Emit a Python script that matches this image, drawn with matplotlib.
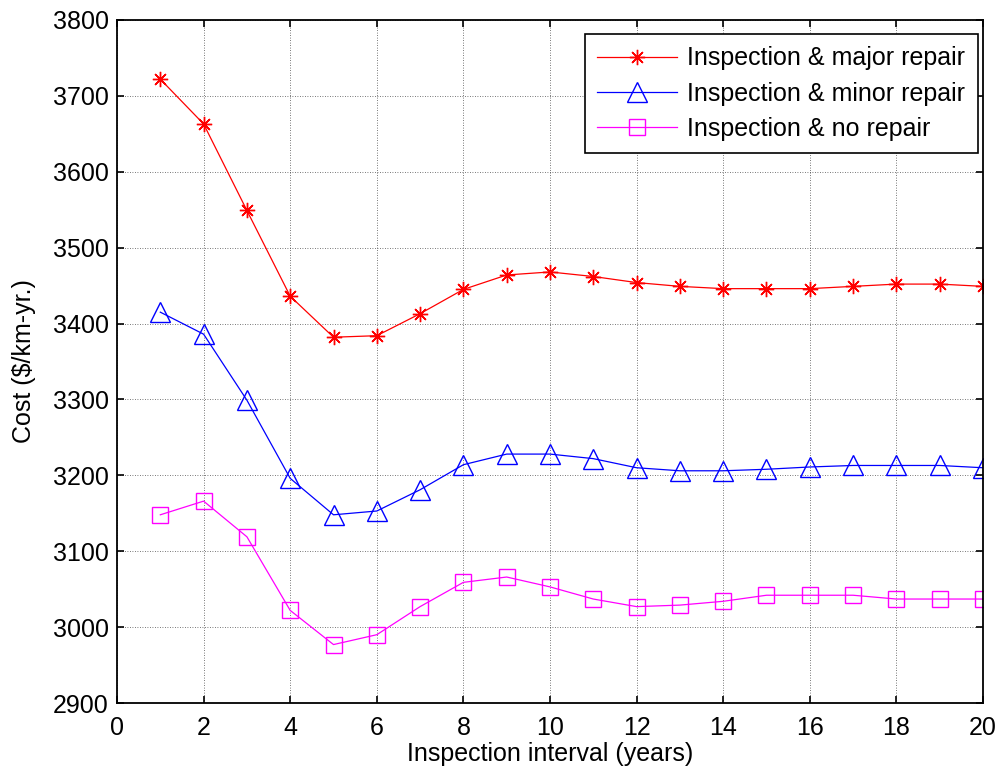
import numpy as np
import matplotlib
matplotlib.use('Agg')
from matplotlib import pyplot as plt

plt.rcParams['font.family'] = ['Liberation Sans', 'DejaVu Sans']

# Inspection interval (years)
interval = list(range(1, 21))

# Cost ($/km-yr.)
major_repair = [3722, 3663, 3549, 3436, 3382, 3384, 3413, 3445, 3464, 3468,
                3462, 3454, 3449, 3446, 3446, 3446, 3449, 3452, 3452, 3449]
minor_repair = [3415, 3386, 3299, 3196, 3148, 3153, 3181, 3214, 3228, 3228,
                3222, 3210, 3206, 3206, 3208, 3211, 3213, 3213, 3213, 3210]
no_repair = [3148, 3166, 3119, 3022, 2977, 2990, 3027, 3059, 3066, 3053,
             3037, 3027, 3029, 3034, 3042, 3042, 3042, 3037, 3037, 3037]

labels = ['Inspection & major repair', 'Inspection & minor repair',
          'Inspection & no repair']
xticks = list(range(0, 21, 2))
yticks = list(range(2900, 3801, 100))

FS = 18

fig = plt.figure(figsize=(10.01, 7.75), dpi=100)
ax = fig.add_axes([0.1169, 0.0929, 0.982 - 0.1169, 0.9742 - 0.0929])

ax.plot(interval, major_repair, color='red', lw=0.9, marker=(8, 2, 0),
        ms=11, mew=1.0, label=labels[0])
ax.plot(interval, minor_repair, color='blue', lw=0.9, marker='^',
        ms=14, mew=1.0, mfc='none', label=labels[1])
ax.plot(interval, no_repair, color='magenta', lw=0.9, marker='s',
        ms=12, mew=1.0, mfc='none', label=labels[2])

ax.set_xlim(0, 20)
ax.set_ylim(2900, 3800)
ax.set_xticks(xticks)
ax.set_yticks(yticks)
ax.tick_params(direction='in', top=True, right=True, labelsize=FS,
               length=5, width=1.2)
ax.tick_params(axis='x', pad=9)
ax.tick_params(axis='y', pad=6)
ax.grid(True, color='black', linestyle=(0, (1, 2)), linewidth=0.6, alpha=0.7)
for s in ax.spines.values():
    s.set_linewidth(1.3)

ax.set_xlabel('Inspection interval (years)', fontsize=FS, labelpad=2)
ax.set_ylabel('Cost ($/km-yr.)', fontsize=FS, labelpad=12)

# legend sits close to the top-right corner like the original
leg = ax.legend(loc='upper right', bbox_to_anchor=(1 - 5 / 866, 1 - 14 / 683),
                fontsize=FS, fancybox=False, framealpha=1, edgecolor='black',
                handlelength=3.2, borderaxespad=0, labelspacing=0.45,
                handletextpad=0.4, borderpad=0.5)
leg.get_frame().set_linewidth(1.2)

fig.savefig('out.png', dpi=100)
